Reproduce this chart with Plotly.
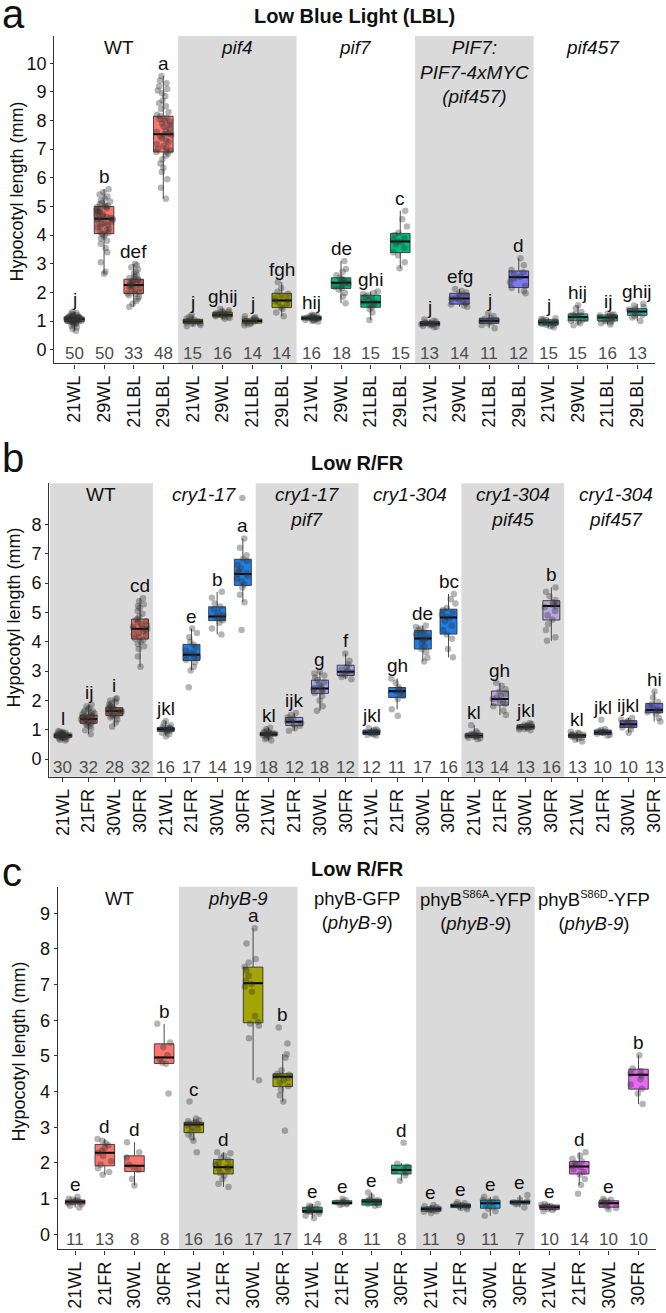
import plotly.graph_objects as go

W, H = 666, 1313

# ====================== Panel a : Low Blue Light ======================
a_genotypes = ["WT", "<i>pif4</i>", "<i>pif7</i>",
               "<i>PIF7:</i><br><i>PIF7-4xMYC</i><br><i>(pif457)</i>", "<i>pif457</i>"]
a_conditions = ["21WL", "29WL", "21LBL", "29LBL"]
a_n = [50, 50, 33, 48, 15, 16, 14, 14, 16, 18, 15, 15, 13, 14, 11, 12, 15, 15, 16, 13]
a_letters = ["j", "b", "def", "a", "j", "ghij", "j", "fgh", "hij", "de", "ghi", "c",
             "j", "efg", "j", "d", "j", "hij", "ij", "ghij"]
a_q1 = [0.98, 4.05, 1.96, 6.90, 0.92, 1.15, 0.93, 1.47, 1.04, 2.14, 1.48, 3.39,
        0.84, 1.59, 0.92, 2.17, 0.86, 1.01, 1.00, 1.20]
a_med = [1.06, 4.57, 2.26, 7.52, 0.98, 1.22, 1.00, 1.72, 1.10, 2.34, 1.66, 3.78,
         0.91, 1.79, 1.01, 2.53, 0.95, 1.14, 1.12, 1.33]
a_q3 = [1.14, 5.00, 2.46, 8.15, 1.06, 1.31, 1.07, 1.97, 1.17, 2.51, 1.90, 4.06,
        0.98, 1.97, 1.10, 2.75, 1.04, 1.25, 1.21, 1.43]
a_lo = [0.66, 2.65, 1.50, 5.27, 0.82, 1.08, 0.85, 1.17, 0.98, 1.62, 1.04, 2.84,
        0.78, 1.50, 0.75, 1.97, 0.78, 0.85, 0.88, 1.00]
a_hi = [1.32, 5.60, 3.00, 9.55, 1.22, 1.42, 1.17, 2.35, 1.22, 3.10, 2.03, 4.85,
        1.05, 2.12, 1.27, 3.19, 1.10, 1.55, 1.26, 1.60]
a_points = [
    [0.66, 0.72, 0.78, 0.83, 0.87, 0.9, 0.92, 0.94, 0.96, 0.97, 0.98, 0.98, 0.99, 1.0, 1.0, 1.01, 1.02,
     1.02, 1.03, 1.03, 1.04, 1.04, 1.05, 1.05, 1.06, 1.06, 1.07, 1.07, 1.08, 1.08, 1.09, 1.09, 1.1, 1.1,
     1.11, 1.11, 1.12, 1.13, 1.13, 1.14, 1.14, 1.15, 1.16, 1.17, 1.19, 1.2, 1.22, 1.25, 1.28, 1.32],
    [2.65, 2.72, 3.05, 3.4, 3.55, 3.7, 3.8, 3.88, 3.95, 4.0, 4.05, 4.08, 4.12, 4.18, 4.22, 4.27, 4.3,
     4.35, 4.4, 4.43, 4.46, 4.5, 4.53, 4.55, 4.57, 4.57, 4.6, 4.63, 4.66, 4.7, 4.73, 4.77, 4.8, 4.84,
     4.88, 4.92, 4.95, 4.98, 5.0, 5.02, 5.05, 5.08, 5.12, 5.17, 5.22, 5.28, 5.35, 5.42, 5.5, 5.6],
    [1.5, 1.6, 1.7, 1.78, 1.85, 1.9, 1.94, 1.97, 2.0, 2.05, 2.1, 2.15, 2.2, 2.23, 2.25, 2.26, 2.28, 2.3,
     2.33, 2.36, 2.4, 2.43, 2.45, 2.47, 2.5, 2.55, 2.6, 2.65, 2.72, 2.8, 2.88, 2.95, 3.0],
    [5.27, 5.65, 5.95, 6.2, 6.35, 6.5, 6.65, 6.78, 6.85, 6.9, 6.92, 6.95, 7.0, 7.05, 7.1, 7.18, 7.25,
     7.3, 7.38, 7.45, 7.5, 7.52, 7.55, 7.6, 7.65, 7.72, 7.78, 7.85, 7.9, 7.95, 8.0, 8.05, 8.1, 8.15,
     8.2, 8.3, 8.4, 8.5, 8.6, 8.7, 8.85, 8.95, 9.05, 9.1, 9.2, 9.3, 9.4, 9.55],
    [0.82, 0.86, 0.9, 0.92, 0.94, 0.96, 0.97, 0.98, 1.0, 1.02, 1.04, 1.06, 1.09, 1.14, 1.22],
    [1.08, 1.11, 1.14, 1.15, 1.17, 1.19, 1.21, 1.22, 1.23, 1.25, 1.28, 1.3, 1.32, 1.35, 1.38, 1.42],
    [0.85, 0.88, 0.91, 0.93, 0.96, 0.98, 1.0, 1.01, 1.03, 1.05, 1.07, 1.1, 1.13, 1.17],
    [1.17, 1.3, 1.42, 1.48, 1.58, 1.66, 1.7, 1.74, 1.8, 1.88, 1.95, 2.02, 2.15, 2.35],
    [0.98, 1.0, 1.02, 1.04, 1.05, 1.07, 1.08, 1.1, 1.1, 1.12, 1.13, 1.15, 1.17, 1.18, 1.2, 1.22],
    [1.62, 1.85, 1.98, 2.1, 2.15, 2.2, 2.25, 2.3, 2.33, 2.35, 2.38, 2.42, 2.47, 2.52, 2.6, 2.72, 2.82, 3.1],
    [1.04, 1.3, 1.42, 1.48, 1.55, 1.6, 1.65, 1.67, 1.72, 1.78, 1.85, 1.9, 1.94, 1.98, 2.03],
    [2.84, 3.05, 3.3, 3.4, 3.55, 3.68, 3.75, 3.78, 3.82, 3.9, 4.0, 4.08, 4.3, 4.55, 4.85],
    [0.78, 0.8, 0.83, 0.85, 0.87, 0.89, 0.91, 0.92, 0.94, 0.96, 0.98, 1.01, 1.05],
    [1.5, 1.54, 1.58, 1.62, 1.68, 1.74, 1.78, 1.8, 1.84, 1.9, 1.96, 2.0, 2.05, 2.12],
    [0.75, 0.86, 0.92, 0.95, 0.99, 1.01, 1.04, 1.08, 1.1, 1.18, 1.27],
    [1.97, 2.05, 2.15, 2.22, 2.35, 2.48, 2.55, 2.62, 2.7, 2.78, 2.95, 3.19],
    [0.78, 0.82, 0.85, 0.87, 0.9, 0.92, 0.94, 0.95, 0.97, 0.99, 1.01, 1.03, 1.05, 1.07, 1.1],
    [0.85, 0.92, 0.98, 1.01, 1.05, 1.08, 1.12, 1.14, 1.16, 1.19, 1.22, 1.25, 1.32, 1.45, 1.55],
    [0.88, 0.92, 0.96, 0.99, 1.01, 1.04, 1.07, 1.1, 1.12, 1.13, 1.15, 1.17, 1.19, 1.21, 1.23, 1.26],
    [1.0, 1.12, 1.18, 1.21, 1.25, 1.3, 1.33, 1.36, 1.4, 1.43, 1.48, 1.54, 1.6],
]

# ====================== Panel b : Low R/FR (cry1) ======================
b_genotypes = ["WT", "<i>cry1-17</i>", "<i>cry1-17</i><br><i>pif7</i>", "<i>cry1-304</i>",
               "<i>cry1-304</i><br><i>pif45</i>", "<i>cry1-304</i><br><i>pif457</i>"]
b_conditions = ["21WL", "21FR", "30WL", "30FR"]
b_n = [30, 32, 28, 32, 16, 17, 14, 19, 18, 12, 18, 12, 12, 11, 17, 16, 13, 14, 13, 16, 13, 10, 10, 13]
b_letters = ["l", "ij", "i", "cd", "jkl", "e", "b", "a", "kl", "ijk", "g", "f",
             "jkl", "gh", "de", "bc", "kl", "gh", "jkl", "b", "kl", "jkl", "ijkl", "hi"]
b_q1 = [0.74, 1.22, 1.48, 4.09, 0.95, 3.36, 4.72, 5.92, 0.80, 1.14, 2.24, 2.85,
        0.84, 2.10, 3.75, 4.26, 0.74, 1.84, 1.03, 4.74, 0.74, 0.84, 1.08, 1.58]
b_med = [0.80, 1.37, 1.64, 4.44, 1.02, 3.56, 4.86, 6.31, 0.85, 1.27, 2.41, 2.98,
         0.91, 2.31, 4.11, 4.83, 0.80, 2.05, 1.10, 5.22, 0.80, 0.91, 1.19, 1.67]
b_q3 = [0.85, 1.50, 1.75, 4.77, 1.08, 3.91, 5.19, 6.81, 0.91, 1.42, 2.69, 3.20,
        0.99, 2.44, 4.38, 5.11, 0.88, 2.32, 1.17, 5.40, 0.85, 0.99, 1.31, 1.90]
b_lo = [0.63, 0.85, 1.10, 3.15, 0.78, 3.02, 4.25, 5.35, 0.63, 0.97, 1.65, 2.72,
        0.80, 1.70, 3.33, 3.47, 0.68, 1.50, 0.98, 4.03, 0.60, 0.80, 0.90, 1.28]
b_hi = [0.95, 1.85, 2.07, 5.48, 1.30, 4.45, 5.70, 7.52, 1.07, 1.57, 2.98, 3.60,
        1.05, 2.75, 4.55, 5.63, 1.15, 2.60, 1.23, 5.85, 0.93, 1.03, 1.40, 2.30]
b_points = [
    [0.63, 0.66, 0.68, 0.7, 0.72, 0.73, 0.74, 0.75, 0.76, 0.77, 0.78, 0.79, 0.79, 0.8, 0.8, 0.81, 0.81,
     0.82, 0.83, 0.84, 0.84, 0.85, 0.86, 0.87, 0.88, 0.89, 0.9, 0.92, 0.94, 0.95],
    [0.85, 0.98, 1.05, 1.12, 1.16, 1.2, 1.22, 1.24, 1.27, 1.29, 1.31, 1.33, 1.35, 1.36, 1.37, 1.38, 1.4,
     1.42, 1.44, 1.46, 1.48, 1.5, 1.52, 1.55, 1.58, 1.6, 1.63, 1.66, 1.7, 1.75, 1.8, 1.85],
    [1.1, 1.25, 1.35, 1.42, 1.46, 1.48, 1.5, 1.53, 1.56, 1.58, 1.6, 1.62, 1.64, 1.65, 1.66, 1.68, 1.7,
     1.72, 1.74, 1.75, 1.78, 1.82, 1.86, 1.9, 1.95, 2.0, 2.04, 2.07],
    [3.15, 3.5, 3.75, 3.85, 3.92, 4.0, 4.06, 4.1, 4.15, 4.2, 4.25, 4.3, 4.35, 4.4, 4.43, 4.45, 4.48,
     4.52, 4.56, 4.6, 4.65, 4.7, 4.75, 4.78, 4.85, 4.95, 5.05, 5.15, 5.22, 5.28, 5.38, 5.48],
    [0.78, 0.85, 0.9, 0.94, 0.96, 0.98, 1.0, 1.01, 1.03, 1.04, 1.06, 1.08, 1.1, 1.15, 1.22, 1.3],
    [2.45, 3.02, 3.15, 3.3, 3.38, 3.45, 3.5, 3.55, 3.58, 3.62, 3.7, 3.8, 3.9, 4.0, 4.15, 4.3, 4.45],
    [4.25, 4.45, 4.65, 4.73, 4.8, 4.84, 4.87, 4.9, 5.0, 5.1, 5.2, 5.3, 5.5, 5.7],
    [4.4, 5.35, 5.6, 5.85, 5.95, 6.05, 6.15, 6.25, 6.3, 6.33, 6.4, 6.5, 6.62, 6.75, 6.82, 6.95, 7.2,
     7.52, 8.9],
    [0.63, 0.68, 0.73, 0.77, 0.8, 0.81, 0.83, 0.84, 0.85, 0.86, 0.87, 0.88, 0.9, 0.91, 0.93, 0.97, 1.02, 1.07],
    [0.97, 1.05, 1.14, 1.18, 1.23, 1.26, 1.29, 1.33, 1.38, 1.43, 1.5, 1.57],
    [1.65, 1.8, 2.0, 2.15, 2.25, 2.3, 2.35, 2.38, 2.4, 2.43, 2.48, 2.55, 2.62, 2.7, 2.78, 2.85, 2.92, 2.98],
    [2.72, 2.8, 2.86, 2.9, 2.95, 2.98, 3.0, 3.05, 3.15, 3.22, 3.35, 3.6],
    [0.8, 0.83, 0.85, 0.87, 0.89, 0.9, 0.92, 0.94, 0.97, 0.99, 1.02, 1.05],
    [1.48, 1.7, 2.05, 2.15, 2.25, 2.3, 2.33, 2.38, 2.45, 2.6, 2.75],
    [3.33, 3.45, 3.65, 3.75, 3.85, 3.95, 4.05, 4.1, 4.12, 4.18, 4.25, 4.3, 4.35, 4.4, 4.45, 4.5, 4.55],
    [3.47, 3.75, 4.1, 4.25, 4.4, 4.55, 4.7, 4.8, 4.85, 4.92, 5.0, 5.08, 5.15, 5.3, 5.45, 5.63],
    [0.68, 0.71, 0.73, 0.75, 0.77, 0.79, 0.8, 0.82, 0.84, 0.86, 0.89, 0.95, 1.15],
    [1.5, 1.65, 1.8, 1.88, 1.95, 2.0, 2.05, 2.1, 2.15, 2.22, 2.3, 2.38, 2.5, 2.6],
    [0.98, 1.01, 1.03, 1.05, 1.07, 1.09, 1.1, 1.11, 1.13, 1.15, 1.17, 1.2, 1.23],
    [4.03, 4.15, 4.4, 4.6, 4.75, 4.9, 5.05, 5.18, 5.22, 5.25, 5.3, 5.35, 5.42, 5.55, 5.7, 5.85],
    [0.6, 0.66, 0.7, 0.73, 0.76, 0.78, 0.8, 0.81, 0.83, 0.85, 0.87, 0.9, 0.93],
    [0.8, 0.83, 0.86, 0.89, 0.91, 0.93, 0.96, 0.99, 1.03, 1.34],
    [0.9, 1.02, 1.08, 1.13, 1.18, 1.21, 1.26, 1.31, 1.35, 1.4],
    [1.28, 1.4, 1.55, 1.6, 1.63, 1.66, 1.68, 1.72, 1.8, 1.88, 1.95, 2.1, 2.3],
]

# ====================== Panel c : Low R/FR (phyB) ======================
SUP = "<sup><span style='font-size:11px'>{}</span></sup>"
c_genotypes = ["WT", "<i>phyB-9</i>", "phyB-GFP<br>(<i>phyB-9</i>)",
               "phyB" + SUP.format("S86A") + "-YFP<br>(<i>phyB-9</i>)",
               "phyB" + SUP.format("S86D") + "-YFP<br>(<i>phyB-9</i>)"]
c_conditions = ["21WL", "21FR", "30WL", "30FR"]
c_n = [11, 13, 8, 8, 16, 16, 17, 17, 14, 8, 11, 8, 11, 9, 11, 7, 10, 14, 10, 10]
c_letters = ["e", "d", "d", "b", "c", "d", "a", "b", "e", "e", "e", "d",
             "e", "e", "e", "e", "e", "d", "e", "b"]
c_q1 = [0.85, 1.92, 1.76, 4.79, 2.85, 1.69, 5.93, 4.14, 0.61, 0.85, 0.82, 1.69,
        0.65, 0.75, 0.73, 0.85, 0.70, 1.69, 0.76, 4.07]
c_med = [0.91, 2.29, 1.92, 4.96, 3.08, 1.88, 7.04, 4.42, 0.65, 0.88, 0.92, 1.80,
         0.71, 0.80, 0.87, 0.90, 0.76, 1.90, 0.87, 4.47]
c_q3 = [0.96, 2.52, 2.20, 5.34, 3.14, 2.10, 7.49, 4.50, 0.76, 0.94, 0.98, 1.94,
        0.76, 0.85, 0.96, 0.94, 0.82, 2.04, 0.94, 4.63]
c_lo = [0.75, 1.67, 1.37, 4.78, 2.62, 1.33, 4.32, 3.72, 0.45, 0.82, 0.80, 1.50,
        0.60, 0.70, 0.52, 0.75, 0.65, 1.38, 0.70, 3.65]
c_hi = [1.05, 2.67, 2.58, 5.90, 3.25, 2.30, 8.58, 5.05, 0.85, 1.00, 1.17, 2.00,
        0.82, 0.90, 1.05, 1.10, 0.85, 2.30, 1.00, 5.02]
c_points = [
    [0.75, 0.8, 0.84, 0.87, 0.89, 0.91, 0.93, 0.95, 0.97, 1.0, 1.05],
    [1.67, 1.75, 1.85, 1.95, 2.05, 2.2, 2.29, 2.35, 2.42, 2.5, 2.55, 2.62, 2.67],
    [1.37, 1.55, 1.8, 1.88, 1.95, 2.15, 2.3, 2.58],
    [3.95, 4.78, 4.82, 4.9, 5.02, 5.25, 5.38, 5.9],
    [2.3, 2.62, 2.72, 2.8, 2.88, 2.95, 3.0, 3.05, 3.08, 3.1, 3.12, 3.14, 3.17, 3.2, 3.25, 3.72],
    [1.33, 1.42, 1.55, 1.65, 1.72, 1.8, 1.85, 1.88, 1.9, 1.95, 2.0, 2.08, 2.15, 2.2, 2.27, 2.3],
    [4.32, 5.5, 5.85, 5.9, 5.95, 6.12, 6.8, 6.95, 7.02, 7.1, 7.25, 7.4, 7.5, 7.62, 7.72, 8.15, 8.58],
    [2.9, 3.72, 3.9, 4.05, 4.15, 4.25, 4.32, 4.38, 4.42, 4.44, 4.47, 4.5, 4.6, 4.95, 5.05, 5.35, 5.8],
    [0.45, 0.52, 0.58, 0.61, 0.63, 0.64, 0.65, 0.66, 0.68, 0.71, 0.74, 0.77, 0.8, 0.85],
    [0.82, 0.84, 0.86, 0.87, 0.89, 0.92, 0.95, 1.0],
    [0.8, 0.82, 0.85, 0.88, 0.91, 0.92, 0.94, 0.96, 0.98, 1.05, 1.17],
    [1.5, 1.65, 1.72, 1.78, 1.82, 1.9, 1.98, 2.57],
    [0.6, 0.63, 0.65, 0.67, 0.69, 0.71, 0.72, 0.74, 0.76, 0.79, 0.82],
    [0.7, 0.74, 0.76, 0.78, 0.8, 0.82, 0.85, 0.87, 0.9],
    [0.52, 0.65, 0.72, 0.76, 0.82, 0.87, 0.9, 0.93, 0.96, 1.0, 1.05],
    [0.75, 0.84, 0.87, 0.9, 0.93, 0.97, 1.1],
    [0.65, 0.68, 0.71, 0.73, 0.75, 0.77, 0.79, 0.81, 0.83, 0.85],
    [1.14, 1.38, 1.55, 1.68, 1.75, 1.82, 1.88, 1.92, 1.96, 2.0, 2.05, 2.12, 2.2, 2.3],
    [0.7, 0.74, 0.78, 0.82, 0.86, 0.88, 0.91, 0.94, 0.97, 1.0],
    [3.65, 3.95, 4.08, 4.2, 4.35, 4.45, 4.5, 4.58, 4.65, 5.02],
]

# ====================== Styles ======================
FONT = "Liberation Sans, Arial, Helvetica, sans-serif"
BAND = "#DADADA"
BOX_LINE = "rgba(45,45,45,0.85)"
PT_COLOR = "rgba(50,50,50,0.36)"
BOX_W = 0.66
TXT = "#111111"
NCOL = "#4D4D4D"

STYLE = {
    "a": dict(colors=["#F8766D", "#A3A500", "#00BF7D", "#7C78F0", "#33DBBA"], shaded=[1, 3],
              px_x=(54.3, 655.0), px_y=(36.0, 363.3), xr=[-0.68, 19.6], yr=[-0.475, 10.95],
              yt=list(range(0, 11)), nshift=-4, title="Low Blue Light (LBL)", title_y=16,
              letter="a", letter_y=14, ytitle_x=16.5, ytitle_y=192, gfont=19),
    "b": dict(colors=["#F8766D", "#1F7EE6", "#A6A6F5", "#1F7EE6", "#B8A7DC", "#6D6DEE"], shaded=[0, 2, 4],
              px_x=(49.3, 666.0), px_y=(483.3, 776.7), xr=[-0.53, 23.46], yr=[-0.6, 9.4],
              yt=list(range(0, 9)), nshift=-8, title="Low R/FR", title_y=463,
              letter="b", letter_y=458, ytitle_x=13.5, ytitle_y=618, gfont=19),
    "c": dict(colors=["#F8766D", "#A3A500", "#00BF7D", "#14A9EE", "#E56CF2"], shaded=[1, 3],
              px_x=(57.7, 656.3), px_y=(886.7, 1249.3), xr=[-0.59, 19.6], yr=[-0.42, 9.745],
              yt=list(range(0, 10)), nshift=-5, title="Low R/FR", title_y=869,
              letter="c", letter_y=872, ytitle_x=18.5, ytitle_y=1052, gfont=18.5),
}

PANELS = [
    ("a", a_genotypes, a_conditions, a_q1, a_med, a_q3, a_lo, a_hi, a_points, a_n, a_letters),
    ("b", b_genotypes, b_conditions, b_q1, b_med, b_q3, b_lo, b_hi, b_points, b_n, b_letters),
    ("c", c_genotypes, c_conditions, c_q1, c_med, c_q3, c_lo, c_hi, c_points, c_n, c_letters),
]

fig = go.Figure()
shapes, annotations = [], []
layout_axes = {}

for k, (key, genos, conds, q1, med, q3, lo, hi, pts, n, letters) in enumerate(PANELS, start=1):
    st = STYLE[key]
    xa = "x" if k == 1 else f"x{k}"
    ya = "y" if k == 1 else f"y{k}"
    nc = len(conds)
    pos = list(range(len(genos) * nc))

    # coloured boxes, one trace per genotype
    for g in range(len(genos)):
        idx = pos[g * nc:(g + 1) * nc]
        fig.add_trace(go.Box(
            x=idx, q1=[q1[i] for i in idx], median=[med[i] for i in idx], q3=[q3[i] for i in idx],
            lowerfence=[lo[i] for i in idx], upperfence=[hi[i] for i in idx],
            fillcolor=st["colors"][g], line=dict(color=BOX_LINE, width=1),
            width=BOX_W, whiskerwidth=0, boxpoints=False,
            xaxis=xa, yaxis=ya, showlegend=False, hoverinfo="skip"))
    # thick median bars
    fig.add_trace(go.Box(
        x=pos, q1=med, median=med, q3=med, lowerfence=med, upperfence=med,
        fillcolor="rgba(0,0,0,0)", line=dict(color="black", width=2),
        width=BOX_W, whiskerwidth=0, boxpoints=False,
        xaxis=xa, yaxis=ya, showlegend=False, hoverinfo="skip"))
    # jittered points
    xs, ys = [], []
    for i, p in enumerate(pts):
        xs += [i] * len(p)
        ys += p
    fig.add_trace(go.Box(
        x=xs, y=ys, boxpoints="all", jitter=0.9, pointpos=0,
        marker=dict(color=PT_COLOR, size=6.5, line=dict(width=0)),
        line=dict(width=0, color="rgba(0,0,0,0)"), fillcolor="rgba(0,0,0,0)",
        width=BOX_W, whiskerwidth=0,
        xaxis=xa, yaxis=ya, showlegend=False, hoverinfo="skip"))

    # shaded genotype bands
    for g in st["shaded"]:
        shapes.append(dict(type="rect", xref=xa, yref=f"{ya} domain",
                           x0=g * nc - 0.5, x1=g * nc + nc - 0.5, y0=0, y1=1,
                           fillcolor=BAND, line=dict(width=0), layer="below"))

    # genotype labels
    for g, name in enumerate(genos):
        annotations.append(dict(x=g * nc + (nc - 1) / 2, y=1, xref=xa, yref=f"{ya} domain",
                                text=name, showarrow=False, yanchor="top", xanchor="center",
                                yshift=1, font=dict(size=st["gfont"], color=TXT)))
    # letters and n
    for i in pos:
        p = pts[i]
        near = [v for v in p if v <= hi[i] + 1.0]
        anchor = max([hi[i]] + near)
        annotations.append(dict(x=i, y=anchor, xref=xa, yref=ya, text=letters[i],
                                showarrow=False, yanchor="bottom", yshift=0,
                                font=dict(size=19, color=TXT)))
        annotations.append(dict(x=i, y=0, xref=xa, yref=ya, text=str(n[i]),
                                showarrow=False, yanchor="middle", yshift=st["nshift"],
                                font=dict(size=17, color=NCOL)))

    x0p, x1p = st["px_x"]
    y0p, y1p = st["px_y"]
    xname = "xaxis" if k == 1 else f"xaxis{k}"
    yname = "yaxis" if k == 1 else f"yaxis{k}"
    layout_axes[xname] = dict(
        domain=[x0p / W, x1p / W], range=st["xr"], anchor=ya,
        tickmode="array", tickvals=pos, ticktext=conds * len(genos), tickangle=-90,
        tickfont=dict(size=18, color=TXT), showline=True, linecolor="#333333", linewidth=1.4,
        ticks="outside", ticklen=4, tickcolor="#333333", showgrid=False, zeroline=False,
        automargin=False, fixedrange=True)
    layout_axes[yname] = dict(
        domain=[1 - y1p / H, 1 - y0p / H], range=st["yr"], anchor=xa,
        tickmode="array", tickvals=st["yt"], tickfont=dict(size=18, color=TXT),
        showline=True, linecolor="#333333", linewidth=1.4, ticks="outside", ticklen=3,
        tickcolor="#333333", showgrid=False, zeroline=False, automargin=False, fixedrange=True)

    xc = (x0p + x1p) / 2 / W
    annotations.append(dict(x=xc, y=1 - st["title_y"] / H, xref="paper", yref="paper",
                            text=f"<b>{st['title']}</b>", showarrow=False,
                            xanchor="center", yanchor="middle", font=dict(size=20, color=TXT)))
    annotations.append(dict(x=0, y=1 - st["letter_y"] / H, xref="paper", yref="paper",
                            text=st["letter"], showarrow=False, xanchor="left", yanchor="middle",
                            font=dict(size=40, color=TXT)))
    annotations.append(dict(x=st["ytitle_x"] / W, y=1 - st["ytitle_y"] / H, xref="paper", yref="paper",
                            text="Hypocotyl length (mm)", showarrow=False, textangle=-90,
                            xanchor="center", yanchor="middle", font=dict(size=18, color=TXT)))

fig.update_layout(
    template="none",
    width=W, height=H,
    margin=dict(l=0, r=0, t=0, b=0, pad=0),
    paper_bgcolor="white", plot_bgcolor="white",
    font=dict(family=FONT, size=18, color=TXT),
    boxmode="overlay",
    showlegend=False,
    shapes=shapes,
    annotations=annotations,
    **layout_axes,
)

fig.write_html("out.html", config={"displayModeBar": False},
               post_script="document.body.style.margin='0px';document.body.style.overflow='hidden';")
